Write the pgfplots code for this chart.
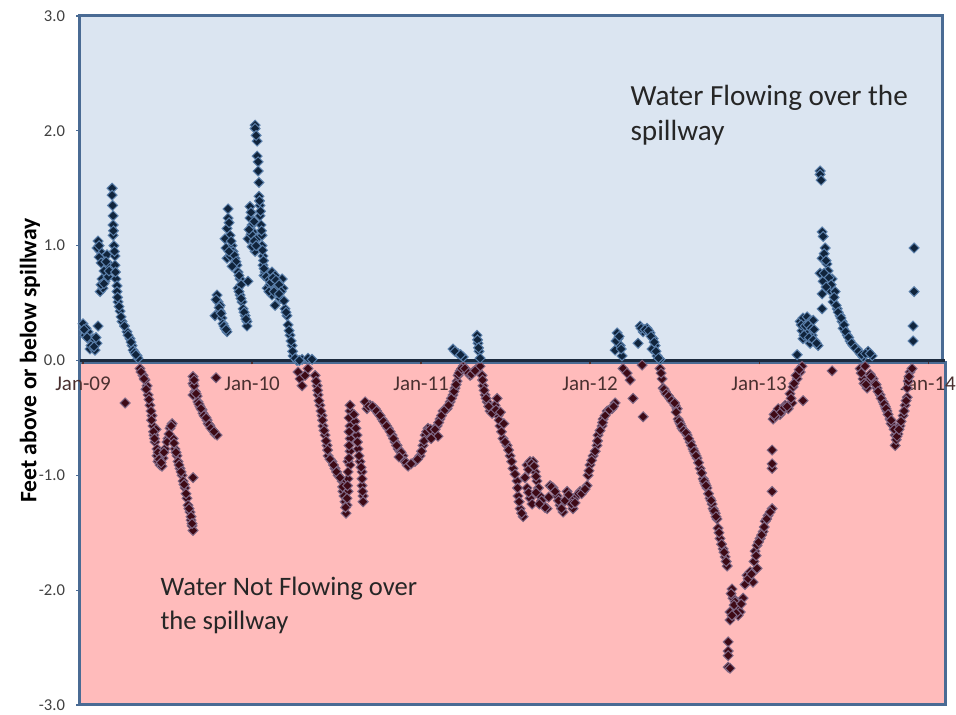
\documentclass[border=0pt]{standalone}
\usepackage{pgfplots}
\pgfplotsset{compat=1.18}
\usepackage{pgfplotstable}
\usepackage{fontspec}
\setmainfont{Carlito}
\definecolor{topbg}{HTML}{DBE5F1}
\definecolor{botbg}{HTML}{FFBBBB}
\definecolor{frame}{HTML}{4A6B94}
\definecolor{zeroline}{HTML}{1B2A3E}
\definecolor{posfill}{HTML}{10243C}
\definecolor{posedge}{HTML}{5A7FAA}
\definecolor{negfill}{HTML}{3E0A16}
\definecolor{negedge}{HTML}{7F6784}
\definecolor{xlab}{HTML}{4A3030}
\definecolor{ylab}{HTML}{404040}

\pgfplotstableread{
x y
2009.000 0.32
2009.030 0.25
2009.053 0.17
2009.083 0.15
2009.089 0.30
2009.059 0.19
2009.012 0.22
2009.041 0.10
2009.018 0.28
2009.071 0.09
2009.089 1.04
2009.101 0.95
2009.118 0.89
2009.083 0.98
2009.142 0.92
2009.112 0.71
2009.101 0.60
2009.130 0.69
2009.148 0.73
2009.160 0.83
2009.142 0.83
2009.118 0.63
2009.172 1.50
2009.172 1.44
2009.178 1.26
2009.178 1.18
2009.178 1.09
2009.183 1.00
2009.189 0.91
2009.189 0.83
2009.195 0.71
2009.201 0.65
2009.201 0.60
2009.207 0.51
2009.219 0.43
2009.231 0.34
2009.260 0.25
2009.278 0.19
2009.290 0.13
2009.296 0.09
2009.320 0.04
2009.325 0.02
2009.793 0.57
2009.799 0.51
2009.781 0.39
2009.811 0.43
2009.822 0.37
2009.828 0.32
2009.840 0.28
2009.852 0.25
2009.811 0.48
2009.858 1.32
2009.858 1.24
2009.852 1.15
2009.870 1.09
2009.882 1.00
2009.888 0.95
2009.899 0.89
2009.911 0.83
2009.917 0.77
2009.929 0.71
2009.917 0.63
2009.929 0.57
2009.941 0.51
2009.947 0.45
2009.959 0.39
2009.970 0.34
2009.970 0.30
2009.976 0.69
2009.852 0.89
2009.840 1.06
2009.870 0.91
2009.988 1.34
2009.988 1.24
2010.000 1.18
2010.006 1.12
2009.976 1.06
2010.006 1.00
2010.018 0.95
2010.000 0.99
2010.030 1.06
2010.018 2.05
2010.018 2.02
2010.030 1.91
2010.030 1.78
2010.036 1.73
2010.036 1.65
2010.041 1.43
2010.047 1.35
2010.047 1.26
2010.053 1.18
2010.059 1.09
2010.059 1.00
2010.065 0.91
2010.065 0.83
2010.071 0.74
2010.077 0.77
2010.095 0.71
2010.118 0.77
2010.136 0.74
2010.178 0.71
2010.089 0.63
2010.118 0.57
2010.148 0.63
2010.166 0.54
2010.183 0.63
2010.136 0.48
2010.195 0.45
2010.207 0.39
2010.107 0.66
2010.154 0.68
2010.213 0.31
2010.225 0.22
2010.237 0.13
2010.243 0.04
2010.266 0.00
2010.296 0.01
2010.331 0.02
2010.355 0.01
2011.189 0.10
2011.219 0.06
2011.249 0.03
2011.331 0.22
2011.337 0.15
2011.343 0.08
2011.349 0.02
2012.160 0.24
2012.166 0.19
2012.148 0.09
2012.178 0.13
2012.189 0.04
2012.296 0.30
2012.314 0.25
2012.337 0.28
2012.355 0.24
2012.373 0.19
2012.385 0.13
2012.367 0.10
2012.284 0.15
2012.396 0.04
2012.414 0.01
2013.243 0.34
2013.260 0.37
2013.284 0.38
2013.302 0.34
2013.320 0.35
2013.254 0.26
2013.284 0.25
2013.314 0.22
2013.331 0.17
2013.349 0.13
2013.260 0.19
2013.302 0.15
2013.225 0.05
2013.361 1.65
2013.361 1.62
2013.367 1.57
2013.373 1.12
2013.379 1.08
2013.391 0.98
2013.373 0.89
2013.402 0.84
2013.361 0.76
2013.408 0.78
2013.379 0.69
2013.432 0.71
2013.373 0.58
2013.420 0.61
2013.450 0.60
2013.373 0.45
2013.438 0.51
2013.462 0.45
2013.479 0.39
2013.491 0.34
2013.497 0.28
2013.521 0.22
2013.538 0.17
2013.556 0.13
2013.580 0.10
2013.598 0.06
2013.615 0.03
2013.645 0.08
2013.669 0.04
2013.917 0.98
2013.917 0.60
2013.911 0.30
2013.911 0.17
2009.006 0.27
2009.024 0.20
2009.047 0.13
2009.065 0.12
2009.077 0.20
2009.095 0.90
2009.107 0.85
2009.124 0.78
2009.136 0.86
2009.154 0.78
2009.106 0.66
2009.124 0.67
2009.095 1.00
2009.175 1.35
2009.180 1.13
2009.186 0.95
2009.192 0.77
2009.204 0.55
2009.213 0.47
2009.225 0.38
2009.245 0.30
2009.266 0.22
2009.284 0.16
2009.305 0.07
2009.313 0.05
2009.787 0.53
2009.805 0.46
2009.817 0.41
2009.834 0.30
2009.846 0.27
2009.864 1.20
2009.876 1.04
2009.893 0.92
2009.905 0.86
2009.923 0.74
2009.935 0.66
2009.923 0.60
2009.935 0.54
2009.953 0.42
2009.964 0.36
2009.846 0.98
2009.864 0.95
2009.882 0.82
2009.994 1.29
2009.994 1.10
2010.012 1.04
2010.024 1.00
2009.982 1.14
2010.012 1.21
2010.024 1.96
2010.041 1.55
2010.044 1.39
2010.050 1.30
2010.056 1.13
2010.062 0.96
2010.068 0.87
2010.071 0.80
2010.083 0.73
2010.101 0.70
2010.112 0.68
2010.124 0.72
2010.142 0.70
2010.160 0.66
2010.172 0.60
2010.189 0.52
2010.100 0.60
2010.130 0.60
2010.160 0.58
2010.201 0.42
2010.219 0.26
2010.231 0.17
2010.240 0.08
2010.255 0.02
2010.280 0.00
2013.249 0.31
2013.272 0.30
2013.290 0.31
2013.308 0.28
2013.325 0.27
2013.266 0.22
2013.296 0.20
2013.320 0.18
2013.340 0.15
2013.385 0.93
2013.396 0.87
2013.385 0.76
2013.414 0.72
2013.426 0.66
2013.396 0.64
2013.444 0.55
2013.456 0.48
2013.468 0.42
2013.485 0.37
2013.503 0.31
2013.512 0.25
2013.530 0.20
2013.547 0.15
2013.568 0.11
2013.588 0.08
2013.607 0.05
2013.630 0.06
2013.657 0.06
2012.154 0.17
2012.172 0.21
2012.184 0.10
2012.302 0.28
2012.325 0.27
2012.346 0.26
2012.361 0.21
2012.379 0.16
2012.390 0.08
2012.405 0.02
2011.201 0.08
2011.234 0.05
2011.334 0.18
2011.340 0.11
}\postable

\pgfplotstableread{
x y
2009.337 -0.07
2009.355 -0.13
2009.379 -0.22
2009.385 -0.30
2009.396 -0.39
2009.408 -0.48
2009.414 -0.57
2009.420 -0.65
2009.426 -0.71
2009.438 -0.77
2009.438 -0.83
2009.444 -0.88
2009.456 -0.91
2009.467 -0.92
2009.432 -0.60
2009.402 -0.44
2009.367 -0.17
2009.249 -0.37
2009.473 -0.85
2009.485 -0.77
2009.503 -0.68
2009.515 -0.59
2009.527 -0.55
2009.533 -0.68
2009.544 -0.77
2009.556 -0.83
2009.562 -0.88
2009.574 -0.94
2009.586 -1.00
2009.592 -1.05
2009.604 -1.11
2009.615 -1.20
2009.621 -1.26
2009.633 -1.32
2009.639 -1.39
2009.645 -1.44
2009.651 -1.48
2009.651 -1.02
2009.651 -0.14
2009.651 -0.20
2009.663 -0.27
2009.675 -0.31
2009.680 -0.36
2009.692 -0.40
2009.704 -0.43
2009.710 -0.46
2009.722 -0.49
2009.734 -0.52
2009.740 -0.55
2009.751 -0.57
2009.769 -0.61
2009.781 -0.64
2009.793 -0.65
2009.651 -0.30
2009.787 -0.15
2010.272 -0.10
2010.284 -0.16
2010.296 -0.22
2010.314 -0.13
2010.331 -0.07
2010.373 -0.13
2010.385 -0.22
2010.391 -0.30
2010.402 -0.39
2010.414 -0.48
2010.420 -0.57
2010.432 -0.65
2010.444 -0.74
2010.450 -0.83
2010.473 -0.88
2010.491 -0.94
2010.509 -1.00
2010.533 -1.05
2010.538 -1.14
2010.550 -1.23
2010.556 -1.33
2010.568 -0.88
2010.562 -1.26
2010.568 -1.14
2010.568 -1.03
2010.580 -0.91
2010.580 -0.79
2010.580 -0.68
2010.580 -0.57
2010.580 -0.44
2010.580 -0.39
2010.609 -0.53
2010.621 -0.65
2010.627 -0.77
2010.639 -0.88
2010.651 -0.97
2010.651 -1.09
2010.657 -1.18
2010.657 -1.23
2010.669 -0.36
2010.680 -0.42
2010.698 -0.39
2010.728 -0.42
2010.746 -0.46
2010.769 -0.51
2010.787 -0.55
2010.805 -0.59
2010.828 -0.65
2010.846 -0.71
2010.864 -0.77
2010.893 -0.83
2010.917 -0.91
2010.905 -0.88
2010.876 -0.79
2010.858 -0.74
2010.964 -0.88
2010.994 -0.83
2011.012 -0.74
2011.024 -0.65
2011.041 -0.59
2011.071 -0.62
2011.095 -0.57
2011.112 -0.51
2011.130 -0.44
2011.154 -0.42
2011.172 -0.36
2011.189 -0.30
2011.201 -0.24
2011.213 -0.18
2011.219 -0.13
2011.231 -0.09
2011.249 -0.05
2011.272 -0.09
2011.290 -0.13
2011.308 -0.10
2011.331 -0.07
2011.349 -0.05
2011.361 -0.13
2011.367 -0.22
2011.379 -0.30
2011.391 -0.36
2011.408 -0.44
2011.438 -0.39
2011.450 -0.33
2011.456 -0.48
2011.467 -0.57
2011.485 -0.68
2011.509 -0.74
2011.527 -0.83
2011.544 -0.94
2011.568 -1.05
2011.574 -1.18
2011.586 -1.29
2011.604 -1.36
2011.627 -0.91
2011.645 -0.88
2011.663 -0.88
2011.675 -0.97
2011.686 -1.05
2011.704 -1.18
2011.722 -1.26
2011.746 -1.29
2011.627 -1.11
2011.645 -1.20
2011.763 -1.09
2011.781 -1.11
2011.805 -1.18
2011.822 -1.26
2011.840 -1.32
2011.864 -1.14
2011.882 -1.20
2011.899 -1.29
2011.923 -1.18
2011.941 -1.14
2011.959 -1.14
2011.982 -1.09
2011.988 -1.00
2012.000 -0.91
2012.018 -0.83
2012.041 -0.74
2012.047 -0.65
2012.071 -0.57
2012.077 -0.51
2012.101 -0.44
2012.130 -0.42
2012.148 -0.37
2012.195 -0.07
2012.219 -0.11
2012.237 -0.17
2012.254 -0.33
2012.314 -0.49
2012.308 -0.04
2012.414 -0.07
2012.426 -0.16
2012.432 -0.24
2012.456 -0.30
2012.473 -0.33
2012.491 -0.36
2012.515 -0.42
2012.521 -0.51
2012.544 -0.59
2012.574 -0.65
2012.592 -0.71
2012.609 -0.77
2012.633 -0.85
2012.651 -0.94
2012.669 -1.03
2012.692 -1.11
2012.710 -1.20
2012.728 -1.29
2012.751 -1.38
2012.757 -1.46
2012.769 -1.55
2012.787 -1.64
2012.799 -1.71
2012.811 -1.79
2012.444 -0.27
2012.503 -0.39
2012.533 -0.55
2012.562 -0.62
2012.621 -0.81
2012.680 -1.07
2012.722 -1.25
2012.740 -1.33
2012.840 -1.99
2012.846 -2.07
2012.828 -2.19
2012.828 -2.26
2012.870 -2.16
2012.905 -2.07
2012.888 -2.19
2012.817 -2.45
2012.817 -2.53
2012.817 -2.57
2012.817 -2.67
2012.828 -2.68
2012.858 -2.10
2012.876 -2.22
2012.929 -1.87
2012.947 -1.84
2012.964 -1.93
2012.988 -1.81
2012.976 -1.66
2012.988 -1.61
2013.006 -1.55
2013.024 -1.49
2013.036 -1.40
2013.053 -1.35
2013.077 -1.29
2013.077 -1.14
2013.077 -0.94
2013.077 -0.90
2013.077 -0.78
2013.083 -0.51
2013.107 -0.44
2013.136 -0.44
2013.154 -0.39
2013.172 -0.42
2013.195 -0.37
2013.183 -0.29
2013.201 -0.23
2013.225 -0.16
2013.243 -0.10
2013.254 -0.05
2013.260 -0.35
2013.124 -0.47
2013.095 -0.49
2013.432 -0.09
2013.598 -0.07
2013.615 -0.16
2013.639 -0.24
2013.645 -0.18
2013.675 -0.16
2013.698 -0.24
2013.716 -0.30
2013.734 -0.36
2013.757 -0.44
2013.775 -0.51
2013.793 -0.57
2013.805 -0.65
2013.805 -0.74
2013.822 -0.64
2013.834 -0.57
2013.852 -0.48
2013.864 -0.39
2013.876 -0.32
2013.876 -0.24
2013.882 -0.18
2013.893 -0.10
2013.905 -0.07
2013.627 -0.05
2013.657 -0.12
2013.686 -0.20
2013.746 -0.40
2013.781 -0.55
2009.343 -0.10
2009.361 -0.16
2009.373 -0.25
2009.390 -0.34
2009.405 -0.52
2009.417 -0.62
2009.423 -0.68
2009.444 -0.80
2009.450 -0.86
2009.462 -0.89
2009.479 -0.80
2009.497 -0.71
2009.509 -0.64
2009.521 -0.57
2009.538 -0.72
2009.550 -0.80
2009.568 -0.91
2009.580 -0.97
2009.598 -1.08
2009.609 -1.16
2009.627 -1.29
2009.639 -1.36
2009.645 -1.42
2009.657 -0.22
2009.669 -0.29
2009.686 -0.38
2009.698 -0.42
2009.716 -0.48
2009.728 -0.50
2009.746 -0.56
2009.757 -0.59
2009.775 -0.62
2009.657 -0.17
2010.379 -0.18
2010.388 -0.26
2010.396 -0.35
2010.408 -0.44
2010.417 -0.52
2010.426 -0.61
2010.438 -0.70
2010.447 -0.78
2010.462 -0.86
2010.482 -0.91
2010.500 -0.97
2010.521 -1.02
2010.536 -1.10
2010.544 -1.18
2010.553 -1.28
2010.574 -0.50
2010.574 -0.62
2010.574 -0.74
2010.574 -0.85
2010.568 -0.97
2010.565 -1.09
2010.562 -1.20
2010.615 -0.59
2010.624 -0.71
2010.633 -0.83
2010.645 -0.93
2010.651 -1.03
2010.654 -1.14
2010.603 -0.47
2010.689 -0.40
2010.713 -0.40
2010.737 -0.44
2010.757 -0.48
2010.778 -0.53
2010.796 -0.57
2010.817 -0.62
2010.837 -0.68
2010.855 -0.74
2010.882 -0.80
2010.911 -0.89
2010.923 -0.92
2010.870 -0.84
2010.941 -0.90
2010.979 -0.86
2011.003 -0.79
2011.018 -0.70
2011.033 -0.62
2011.056 -0.60
2011.083 -0.60
2011.104 -0.54
2011.121 -0.48
2011.142 -0.43
2011.163 -0.39
2011.180 -0.33
2011.195 -0.27
2011.207 -0.21
2011.225 -0.11
2011.240 -0.07
2011.260 -0.07
2011.281 -0.11
2011.299 -0.12
2011.320 -0.09
2011.100 -0.66
2011.060 -0.68
2011.364 -0.17
2011.373 -0.26
2011.385 -0.33
2011.400 -0.40
2011.420 -0.46
2011.444 -0.43
2011.462 -0.52
2011.476 -0.62
2011.497 -0.71
2011.518 -0.78
2011.536 -0.88
2011.556 -0.99
2011.571 -1.11
2011.580 -1.23
2011.595 -1.33
2011.470 -0.45
2011.490 -0.55
2011.615 -1.02
2011.636 -0.95
2011.654 -0.90
2011.669 -0.92
2011.680 -1.01
2011.695 -1.11
2011.713 -1.22
2011.734 -1.28
2011.755 -1.19
2011.772 -1.10
2011.793 -1.14
2011.813 -1.22
2011.831 -1.29
2011.852 -1.22
2011.873 -1.17
2011.891 -1.25
2011.911 -1.24
2011.932 -1.16
2011.950 -1.16
2011.970 -1.12
2011.636 -1.15
2011.657 -1.25
2011.680 -1.15
2011.700 -1.25
2011.994 -0.96
2012.009 -0.87
2012.030 -0.79
2012.044 -0.70
2012.059 -0.61
2012.074 -0.54
2012.089 -0.48
2012.115 -0.43
2012.139 -0.40
2012.420 -0.11
2012.438 -0.25
2012.450 -0.29
2012.465 -0.31
2012.482 -0.35
2012.500 -0.37
2012.509 -0.45
2012.527 -0.53
2012.539 -0.57
2012.553 -0.61
2012.568 -0.63
2012.583 -0.68
2012.600 -0.74
2012.615 -0.79
2012.627 -0.83
2012.642 -0.89
2012.660 -0.98
2012.675 -1.05
2012.686 -1.09
2012.701 -1.16
2012.716 -1.22
2012.734 -1.31
2012.745 -1.36
2012.763 -1.50
2012.778 -1.60
2012.793 -1.67
2012.805 -1.75
2012.834 -2.03
2012.852 -2.13
2012.864 -2.20
2012.840 -2.22
2012.894 -2.12
2012.917 -1.95
2012.935 -1.90
2012.955 -1.86
2012.970 -1.75
2012.982 -1.70
2012.997 -1.58
2013.015 -1.52
2013.030 -1.45
2013.045 -1.38
2013.065 -1.32
2013.089 -0.47
2013.113 -0.42
2013.130 -0.45
2013.148 -0.41
2013.166 -0.40
2013.189 -0.33
2013.207 -0.20
2013.219 -0.13
2013.237 -0.08
2013.604 -0.11
2013.621 -0.20
2013.633 -0.21
2013.663 -0.14
2013.692 -0.21
2013.704 -0.27
2013.722 -0.33
2013.740 -0.38
2013.751 -0.42
2013.763 -0.47
2013.781 -0.52
2013.799 -0.60
2013.811 -0.69
2013.816 -0.66
2013.828 -0.60
2013.840 -0.53
2013.858 -0.44
2013.870 -0.35
2013.887 -0.14
}\negtable

\begin{document}
\begin{tikzpicture}
\useasboundingbox (-40pt,-5pt) rectangle (438pt,352.5pt);
\begin{axis}[
  scale only axis, width=432.5pt, height=344.5pt,
  xmin=2008.982, xmax=2014.10, ymin=-3, ymax=3,
  clip=false, axis on top,
  axis x line*=middle, axis y line*=left,
  x axis line style={draw=zeroline, line width=1.5pt},
  y axis line style={draw=none},
  xtick={2009,2010,2011,2012,2013,2014},
  xticklabels={Jan-09,Jan-10,Jan-11,Jan-12,Jan-13,Jan-14},
  ytick={-3,-2,-1,0,1,2,3},
  yticklabels={-3.0,-2.0,-1.0,0.0,1.0,2.0,3.0},
  tick align=outside, major tick length=2pt,
  xtick style={draw=xlab, line width=0.6pt},
  ytick style={draw=frame, line width=0.6pt},
  xticklabel style={font=\fontsize{10.5}{12}\selectfont, text=xlab, yshift=-2.5pt},
  yticklabel style={font=\fontsize{8.3}{9.6}\selectfont, text=ylab, xshift=-2pt},
]
\fill[topbg] (axis cs:2008.982,0) rectangle (axis cs:2014.083,3);
\fill[botbg] (axis cs:2008.982,-3) rectangle (axis cs:2014.10,0);
\draw[frame, line width=1.5pt] (axis cs:2008.982,0) rectangle (axis cs:2014.083,3);
\draw[frame, line width=1.5pt] (axis cs:2008.982,-3) rectangle (axis cs:2014.10,-0.02);

\addplot[only marks, mark=square*, mark size=1.75pt,
  mark options={rotate=45, fill=negfill, draw=negedge, line width=0.5pt}]
  table[x=x, y=y] {\negtable};
\addplot[only marks, mark=square*, mark size=1.75pt,
  mark options={rotate=45, fill=posfill, draw=posedge, line width=0.5pt}]
  table[x=x, y=y] {\postable};

\node[anchor=base west, inner sep=0pt, align=left,
  font=\fontsize{14.6}{17.5}\selectfont, text=black!85]
  at (axis cs:2012.237,1.916) {Water Flowing over the\\spillway};
\node[anchor=base west, inner sep=0pt, align=left,
  font=\fontsize{13.3}{17}\selectfont, text=black!85]
  at (axis cs:2009.456,-2.343) {Water Not Flowing over\\the spillway};
\node[rotate=90, font=\bfseries\fontsize{11.8}{14}\selectfont]
  at ([xshift=-25pt]rel axis cs:0,0.5) {Feet above or below spillway};
\end{axis}
\end{tikzpicture}
\end{document}
